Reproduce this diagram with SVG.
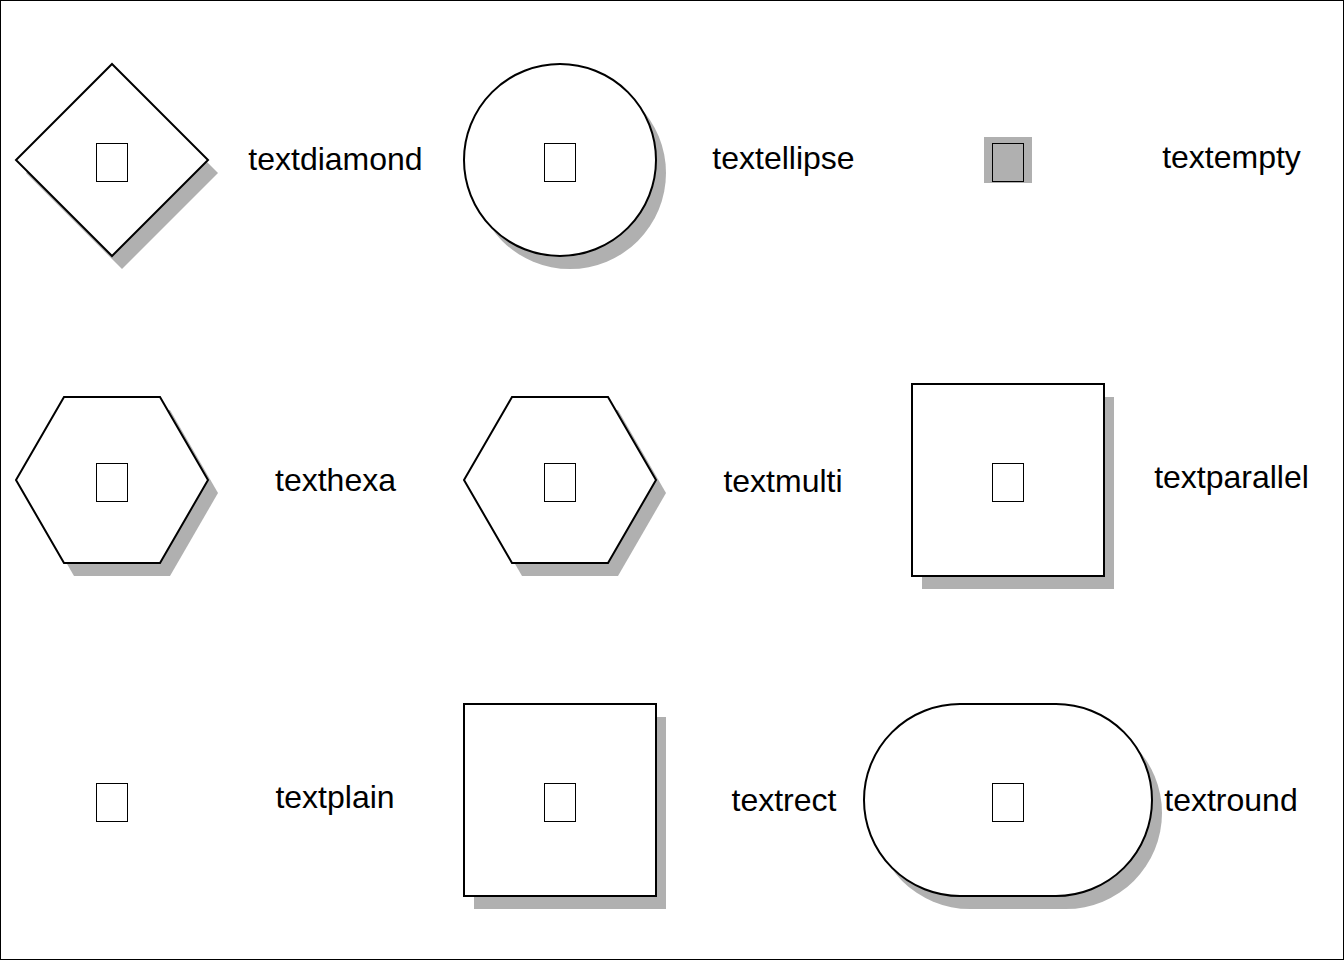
<svg xmlns="http://www.w3.org/2000/svg" width="1344" height="960" viewBox="0 0 1344 960">
<style>
.sh{fill:#b0b0b0;stroke:none}
.nd{fill:#ffffff;stroke:#000000;stroke-width:2}
.in{fill:#ffffff;stroke:#000000;stroke-width:1}
.lb{font-family:"Liberation Sans",Arial,sans-serif;font-size:32px;fill:#000000;text-anchor:middle}
</style>
<rect x="0.5" y="0.5" width="1343" height="959" fill="#ffffff" stroke="#000000" stroke-width="1"/>
<g id="connectors"></g>
<g id="diamond">
<polygon class="sh" points="122,77 218,173 122,269 26,173"/>
<polygon class="nd" points="112,64 208,160 112,256 16,160"/>
<rect class="in" x="96.5" y="143.5" width="31" height="38"/>
<text class="lb" x="335.5" y="170">textdiamond</text>
</g>
<g id="ellipse">
<circle class="sh" cx="570" cy="173" r="96"/>
<circle class="nd" cx="560" cy="160" r="96"/>
<rect class="in" x="544.5" y="143.5" width="31" height="38"/>
<text class="lb" x="783.5" y="169">textellipse</text>
</g>
<g id="empty">
<rect class="sh" x="984" y="137" width="48" height="46"/>
<rect x="992.5" y="143.5" width="31" height="38" fill="#b0b0b0" stroke="#000000" stroke-width="1"/>
<text class="lb" x="1231.5" y="168">textempty</text>
</g>
<g id="hexa">
<polygon class="sh" points="74,410 170,410 218,493 170,576 74,576 26,493"/>
<polygon class="nd" points="64,397 160,397 208,480 160,563 64,563 16,480"/>
<rect class="in" x="96.5" y="463.5" width="31" height="38"/>
<text class="lb" x="335.5" y="491">texthexa</text>
</g>
<g id="multi">
<polygon class="sh" points="522,410 618,410 666,493 618,576 522,576 474,493"/>
<polygon class="nd" points="512,397 608,397 656,480 608,563 512,563 464,480"/>
<rect class="in" x="544.5" y="463.5" width="31" height="38"/>
<text class="lb" x="783" y="492">textmulti</text>
</g>
<g id="parallel">
<rect class="sh" x="922" y="397" width="192" height="192"/>
<rect class="nd" x="912" y="384" width="192" height="192"/>
<rect class="in" x="992.5" y="463.5" width="31" height="38"/>
<text class="lb" x="1231.5" y="488">textparallel</text>
</g>
<g id="plain">
<rect class="in" x="96.5" y="783.5" width="31" height="38"/>
<text class="lb" x="335" y="808">textplain</text>
</g>
<g id="rect">
<rect class="sh" x="474" y="717" width="192" height="192"/>
<rect class="nd" x="464" y="704" width="192" height="192"/>
<rect class="in" x="544.5" y="783.5" width="31" height="38"/>
<text class="lb" x="784" y="811">textrect</text>
</g>
<g id="round">
<rect class="sh" x="874" y="717" width="288" height="192" rx="96" ry="96"/>
<rect class="nd" x="864" y="704" width="288" height="192" rx="96" ry="96"/>
<rect class="in" x="992.5" y="783.5" width="31" height="38"/>
<text class="lb" x="1231" y="811">textround</text>
</g>
</svg>
